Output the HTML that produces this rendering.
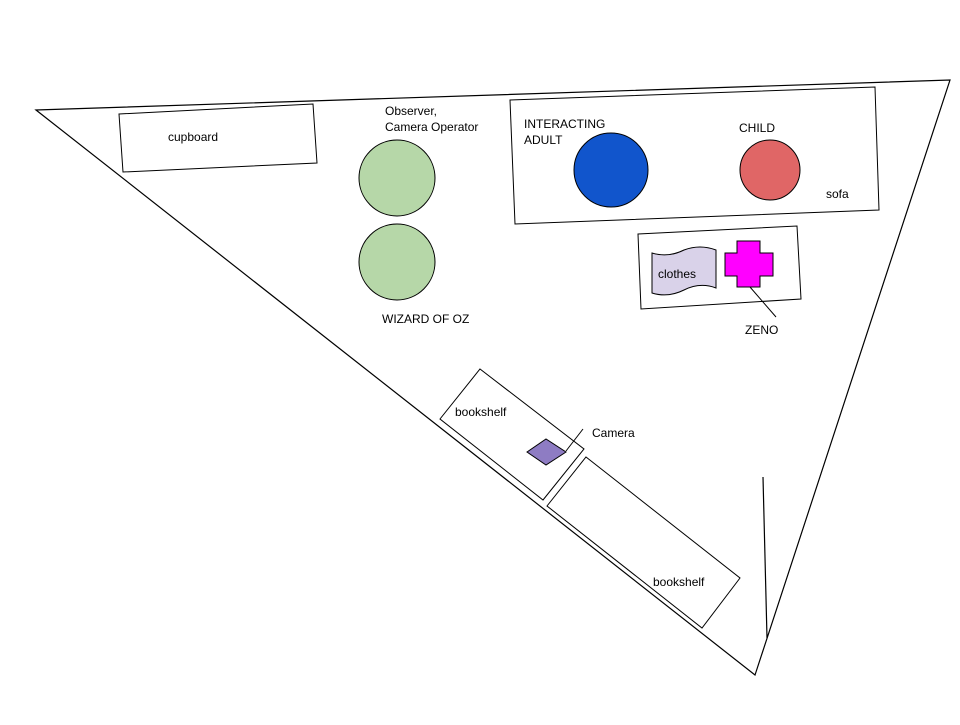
<!DOCTYPE html>
<html><head><style>body{margin:0;background:#fff}</style></head><body>
<svg width="960" height="720" xmlns="http://www.w3.org/2000/svg" font-family="Liberation Sans, sans-serif" font-size="12">
<rect width="960" height="720" fill="#fff"/>
<polygon points="36,110 950,80 755,675" fill="none" stroke="#000" stroke-width="1.2"/>
<line x1="763" y1="477" x2="767" y2="638" stroke="#000" stroke-width="1.2"/>
<polygon points="119,114 313,104 317,163 123,172" fill="#fff" stroke="#000"/>
<text x="168" y="141">cupboard</text>
<polygon points="510,100 875,87 879,210 515,224" fill="#fff" stroke="#000"/>
<circle cx="611" cy="170" r="37" fill="#1155cc" stroke="#000"/>
<circle cx="770" cy="170" r="30" fill="#e06666" stroke="#000"/>
<text x="524" y="128">INTERACTING</text>
<text x="524" y="144">ADULT</text>
<text x="739" y="132">CHILD</text>
<text x="826" y="198">sofa</text>
<circle cx="397" cy="178" r="38" fill="#b6d7a8" stroke="#000"/>
<circle cx="397" cy="262" r="38" fill="#b6d7a8" stroke="#000"/>
<text x="385" y="115">Observer,</text>
<text x="385" y="131">Camera Operator</text>
<text x="382" y="323">WIZARD OF OZ</text>
<polygon points="638,234 797,226 801,299 641,309" fill="#fff" stroke="#000"/>
<path d="M652,253 Q668,258 684,250 Q700,244 716,250 L716,288 Q700,282 684,290 Q668,298 652,293 Z" fill="#d9d2e9" stroke="#000"/>
<text x="658" y="278">clothes</text>
<polygon points="737,241 760,241 760,253 773,253 773,276 760,276 760,287 737,287 737,276 725,276 725,253 737,253" fill="#ff00ff" stroke="#000"/>
<line x1="750" y1="287" x2="776" y2="317" stroke="#000"/>
<text x="745" y="334">ZENO</text>
<polygon points="480,369 584,449 543,500 440,419" fill="#fff" stroke="#000"/>
<polygon points="586,457 740,578 702,628 547,506" fill="#fff" stroke="#000"/>
<text x="455" y="416">bookshelf</text>
<text x="653" y="586">bookshelf</text>
<polygon points="527,452 546,439 566,452 546,465" fill="#8e7cc3" stroke="#000"/>
<line x1="566" y1="451" x2="583" y2="429" stroke="#000"/>
<text x="592" y="437">Camera</text>
</svg>
</body></html>
